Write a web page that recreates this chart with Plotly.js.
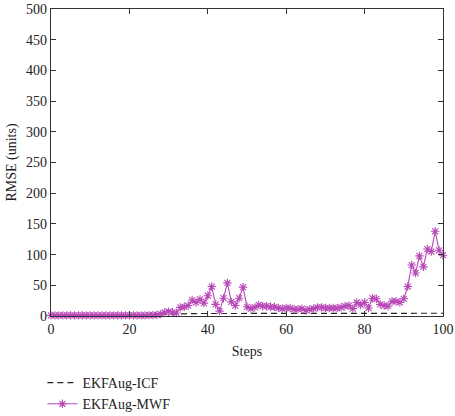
<!DOCTYPE html>
<html>
<head>
<meta charset="utf-8">
<script src="https://cdn.plot.ly/plotly-3.0.1.min.js"></script>
<style>html,body{margin:0;padding:0;background:#fff;}#chart{width:455px;height:416px;}</style>
</head>
<body>
<div id="chart"></div>
<script>
var steps = [];
for (var i = 0; i <= 100; i++) steps.push(i);

var icfRmse = [1,1,1,1,1,1,1,1,1,1,1,1,1,1,1,1,1,1,1,1,
  1.5,1.5,1.5,2,2,2,2,2.5,2.5,3,3,3,3.5,3.5,3.5,4,4,4,4,4,
  4,4,4,4,4,4,4,4,4,4,4,4,4,4,4,4,4,4,4,4,
  4,4,4,4,4,4,4,4,4,4,4,4,4,4,4,4,4,4,4,4,
  4.5,4.5,4.5,4.5,4.5,4.5,4.5,4.5,4.5,4.5,4.5,4.5,4.5,4.5,4.5,4.5,4.5,4.5,4.5,4.5,4.5];

var mwfRmse = [1,1,1,1,1,1,1,1,1,1,1,1,1,1,1,1,1,1,1,1,
  1,1,1,1,1,1.5,1.5,2,3,6,7,6,5,14,15,17,26,22,27,21,
  33,48,19,8,29,54,23,17,29,47,15,12,14,18,16,16,15,15,13,12,
  13,13,11,11,12,9,11,12,14,14,13,13,13,13,14,16,17,12,22,18,
  22,13,29,28,19,17,16,24,24,22,28,48,83,70,98,80,109,105,138,107,99];

var xTicks = [0,20,40,60,80,100];
var yTicks = [0,50,100,150,200,250,300,350,400,450,500];

var serif = "Liberation Serif, Times New Roman, serif";

var traces = [
  {
    x: steps, y: icfRmse, name: "EKFAug-ICF", type: "scatter", mode: "lines",
    line: {color: "#222222", width: 1.2, dash: "6px,4px"},
    cliponaxis: false
  },
  {
    x: steps, y: mwfRmse, name: "EKFAug-MWF", type: "scatter", mode: "lines+markers",
    line: {color: "#b848b8", width: 1.1},
    marker: {symbol: "asterisk-open", size: 7, color: "#b848b8", line: {color: "#b848b8", width: 1.1}},
    cliponaxis: false
  }
];

var axisCommon = {
  showgrid: false, zeroline: false, showline: true, linecolor: "#333", linewidth: 1.2,
  mirror: "ticks", ticks: "inside", ticklen: 5, tickcolor: "#333", tickwidth: 1,
  tickfont: {family: serif, size: 14, color: "#222"}
};

var layout = {
  width: 455, height: 416,
  margin: {l: 51, r: 12, t: 9, b: 100, autoexpand: false},
  paper_bgcolor: "#fff", plot_bgcolor: "#fff",
  showlegend: true,
  font: {family: serif, size: 14, color: "#222"},
  xaxis: Object.assign({}, axisCommon, {
    range: [0, 100], tickvals: xTicks, ticktext: xTicks.map(String), automargin: false,
    title: {text: "Steps", font: {family: serif, size: 14, color: "#222"}, standoff: 10}
  }),
  yaxis: Object.assign({}, axisCommon, {
    range: [0, 500], tickvals: yTicks, ticktext: yTicks.map(String), automargin: false,
    title: {text: "RMSE (units)", font: {family: serif, size: 14, color: "#222"}, standoff: 6}
  }),
  legend: {
    x: -0.022, xanchor: "left", y: -0.166, yanchor: "top",
    orientation: "v", bgcolor: "rgba(0,0,0,0)",
    font: {family: serif, size: 14, color: "#222"},
    tracegroupgap: 0, itemwidth: 30
  }
};

Plotly.newPlot("chart", traces, layout, {displayModeBar: false, staticPlot: true});
</script>
</body>
</html>
